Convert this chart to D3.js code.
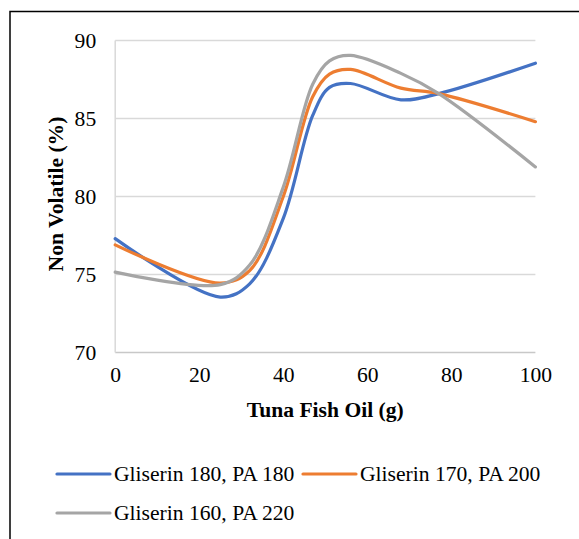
<!DOCTYPE html>
<html>
<head>
<meta charset="utf-8">
<script src="https://cdn.jsdelivr.net/npm/d3@7"></script>
<style>
  body { margin: 0; background: #fff; }
</style>
</head>
<body>
<div id="my_dataviz"></div>
<script>
// data
var oil = [0, 25, 32, 40, 47, 51, 56, 68, 77, 100];
var gli180 = [77.3, 73.55, 74.4, 78.6, 85.2, 87.0, 87.25, 86.2, 86.6, 88.55];
var gli170 = [76.9, 74.45, 75.25, 80.0, 86.4, 87.85, 88.15, 86.95, 86.6, 84.8];
var gli160 = [75.15, 74.35, 75.6, 80.6, 87.2, 88.7, 89.05, 87.9, 86.6, 81.9];
var seriesNames = ["Gliserin 180, PA 180", "Gliserin 170, PA 200", "Gliserin 160, PA 220"];
var seriesColors = ["#4472C4", "#ED7D31", "#A5A5A5"];
var xTicks = [0, 20, 40, 60, 80, 100];
var yTicks = [70, 75, 80, 85, 90];

var series = [gli180, gli170, gli160];
var FONT = "Liberation Serif";
var FSIZE = "21.6px";

// set the dimensions and margins of the graph
var W = 579, H = 539;
var margin = {top: 40.6, right: 43.6, bottom: 186.6, left: 115.2},
    width = W - margin.left - margin.right,
    height = H - margin.top - margin.bottom;

var root = d3.select("#my_dataviz")
  .append("svg")
    .attr("width", W)
    .attr("height", H);

// outer frame (cut off at right and bottom)
root.append("rect")
  .attr("x", 10)
  .attr("y", 11.5)
  .attr("width", W)
  .attr("height", H)
  .attr("fill", "none")
  .attr("stroke", "#000")
  .attr("stroke-width", 1.5);

var svg = root.append("g")
  .attr("transform", "translate(" + margin.left + "," + margin.top + ")");

var x = d3.scaleLinear().domain([0, 100]).range([0, width]);
var y = d3.scaleLinear().domain([70, 90]).range([height, 0]);

// gridlines
svg.append("g")
  .selectAll("line")
  .data(yTicks)
  .enter()
  .append("line")
    .attr("x1", 0)
    .attr("x2", width)
    .attr("y1", function(d) { return y(d); })
    .attr("y2", function(d) { return y(d); })
    .attr("stroke", function(d) { return d == 70 ? "#c8c8c8" : "#d9d9d9"; })
    .attr("stroke-width", 1.5);

// left axis line
svg.append("line")
  .attr("x1", 0).attr("x2", 0)
  .attr("y1", 0).attr("y2", height)
  .attr("stroke", "#d9d9d9")
  .attr("stroke-width", 1.5);

// Y axis labels
var yAxis = svg.append("g")
  .attr("transform", "translate(-19,0)")
  .call(d3.axisLeft(y).tickValues(yTicks).tickSize(0).tickPadding(0));
yAxis.select(".domain").remove();
yAxis.selectAll("text")
  .style("font-family", FONT)
  .style("font-size", FSIZE)
  .attr("fill", "#000");

// X axis labels
var xAxis = svg.append("g")
  .attr("transform", "translate(0," + (height + 14) + ")")
  .call(d3.axisBottom(x).tickValues(xTicks).tickSize(0).tickPadding(0));
xAxis.select(".domain").remove();
xAxis.selectAll("text")
  .style("font-family", FONT)
  .style("font-size", FSIZE)
  .attr("fill", "#000");

// axis titles
svg.append("text")
  .attr("x", width / 2)
  .attr("y", height + 65)
  .attr("text-anchor", "middle")
  .style("font-family", FONT)
  .style("font-size", FSIZE)
  .style("font-weight", "bold")
  .text("Tuna Fish Oil (g)");

svg.append("text")
  .attr("transform", "translate(-52," + (194 - margin.top) + ") rotate(-90)")
  .attr("text-anchor", "middle")
  .style("font-family", FONT)
  .style("font-size", FSIZE)
  .style("font-weight", "bold")
  .text("Non Volatile (%)");

// the smoothed lines
var line = d3.line()
  .curve(d3.curveCatmullRom.alpha(0.5))
  .x(function(d, i) { return x(oil[i]); })
  .y(function(d) { return y(d); });

series.forEach(function(s, k) {
  svg.append("path")
    .datum(s)
    .attr("d", line)
    .attr("fill", "none")
    .attr("stroke", seriesColors[k])
    .attr("stroke-width", 3.2)
    .attr("stroke-linecap", "round");
});

// legend
var legendPos = [[57, 474], [303, 474], [57, 513]];
var legend = root.append("g");
seriesNames.forEach(function(name, k) {
  var g = legend.append("g")
    .attr("transform", "translate(" + legendPos[k][0] + "," + legendPos[k][1] + ")");
  g.append("line")
    .attr("x1", 0).attr("x2", 53)
    .attr("y1", 0).attr("y2", 0)
    .attr("stroke", seriesColors[k])
    .attr("stroke-width", 3.2)
    .attr("stroke-linecap", "round");
  g.append("text")
    .attr("x", 57)
    .attr("y", 7)
    .style("font-family", FONT)
    .style("font-size", FSIZE)
    .text(name);
});
</script>
</body>
</html>
